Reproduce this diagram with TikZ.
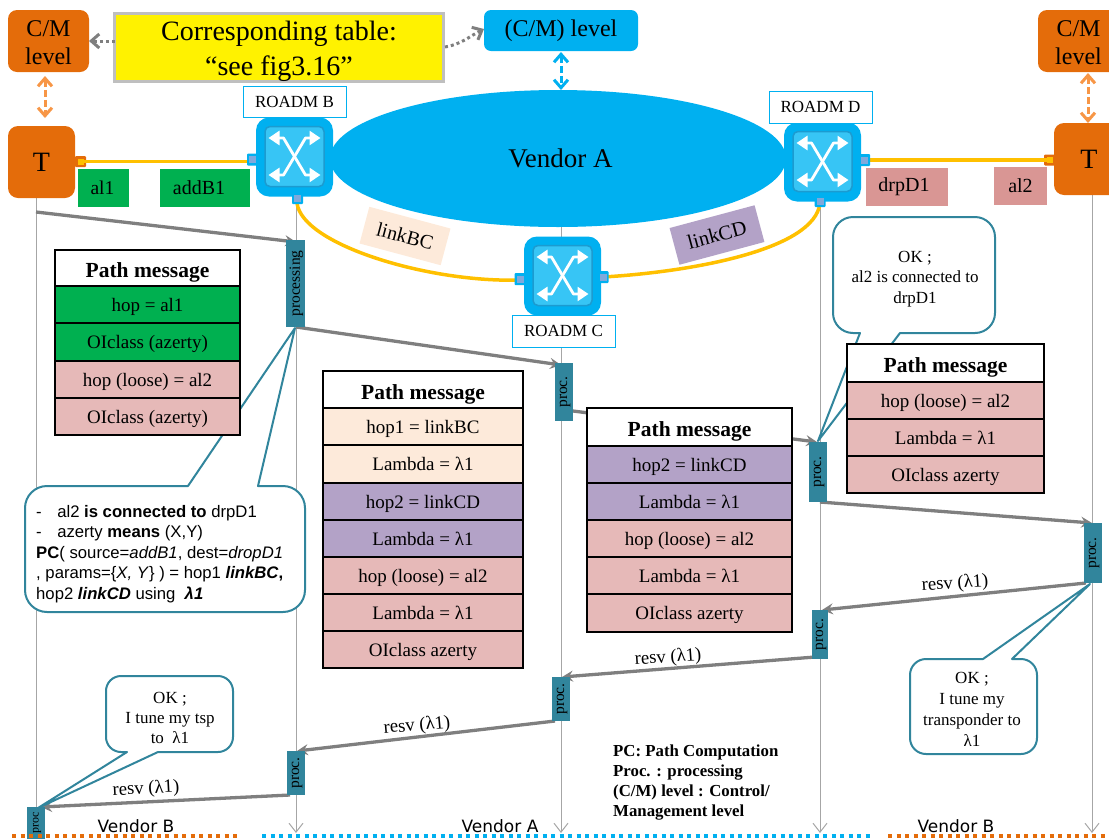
\documentclass[tikz,border=0pt]{standalone}
\usepackage{fontspec}
\setmainfont{Liberation Serif}
\setsansfont{Liberation Sans}
\newfontfamily\vendorfont{DejaVu Sans}
\usetikzlibrary{arrows.meta,shapes.geometric,calc}
\definecolor{cmorange}{HTML}{E46C0A}
\definecolor{lightorange}{HTML}{F79646}
\definecolor{skyblue}{HTML}{00B0F0}
\definecolor{innerblue}{HTML}{37C5F5}
\definecolor{innerborder}{HTML}{1C9BD0}
\definecolor{portblue}{HTML}{7FA9DC}
\definecolor{tealc}{HTML}{31859C}
\definecolor{msggray}{HTML}{7F7F7F}
\definecolor{lifegray}{HTML}{A6A6A6}
\definecolor{linkyellow}{HTML}{FFC000}
\definecolor{rowgreen}{HTML}{00B050}
\definecolor{rowpink}{HTML}{E6B9B8}
\definecolor{rowpeach}{HTML}{FDEADA}
\definecolor{rowpurple}{HTML}{B3A2C7}
\definecolor{labelpink}{HTML}{D99694}
\newcommand{\fs}[1]{\fontsize{#1}{#1}\selectfont}
\newcommand{\ptext}[2][15.5]{\hspace{2pt}\rotatebox{90}{\fs{#1}#2}}
\newcommand{\phead}{\raisebox{-3pt}{\fs{21.5}\bfseries Path message}}
\tikzset{
  x=1pt,y=-1pt,
  box/.style={inner sep=0pt,outer sep=0pt,align=center,anchor=north west},
  procbox/.style={fill=tealc,inner sep=0pt,outer sep=0pt,anchor=north west},
  msg/.style={draw=msggray,line width=3.3pt,-{Stealth[length=11pt,width=11pt,inset=4pt]}},
  life/.style={draw=lifegray,line width=1pt},
  lifeend/.style={life,-{Straight Barb[length=9pt,width=14pt,line width=1pt]}},
  link/.style={draw=linkyellow,line width=3.5pt},
  callout/.style={draw=tealc,line width=2pt,fill=white,line join=round},
  tagbox/.style={draw=skyblue,line width=.9pt,fill=white,font=\fs{17}},
  rowbox/.style={draw=black,line width=1.1pt,font=\fs{19},text height=17pt,text depth=4pt},
  port/.style={fill=skyblue,rounded corners=1pt},
  portin/.style={fill=portblue},
  swarrow/.style={white,line width=2.8pt,line join=round,{Triangle[length=11pt,width=14pt]}-{Triangle[length=11pt,width=14pt]}},
  cmarrow/.style={draw=lightorange,line width=3pt,dash pattern=on 7pt off 3pt,{Straight Barb[length=8pt,width=14pt,line width=3pt]}-{Straight Barb[length=8pt,width=14pt,line width=3pt]}},
  blarrow/.style={draw=skyblue,line width=3pt,dash pattern=on 7pt off 3pt,{Straight Barb[length=8pt,width=14pt,line width=3pt]}-{Straight Barb[length=8pt,width=14pt,line width=3pt]}},
  refarrow/.style={draw=msggray,line width=3pt,dash pattern=on 3pt off 3pt,-{Straight Barb[length=8pt,width=14pt,line width=3pt]}},
  resv/.style={font=\fs{18.7}},
  bubbletext/.style={align=center,font=\fs{17},inner sep=0pt},
  vendorlabel/.style={font=\vendorfont\fs{17},inner sep=0pt},
  dotline/.style={line width=4pt,dash pattern=on 4pt off 4.5pt}
}
% name w h text fill pos
\newcommand{\rbox}[6]{\node[box,rowbox,fill=#5,minimum width=#2 pt,minimum height=#3 pt] (#1) at (#6) {#4};}
% name, cx, cy
\newcommand{\roadm}[3]{%
  \fill[skyblue,rounded corners=13pt] (#2-38.5,#3-39.5) rectangle (#2+38.5,#3+39.5);
  \draw[fill=innerblue,draw=innerborder,line width=1.5pt,rounded corners=5pt] (#2-29.5,#3-30.5) rectangle (#2+29.5,#3+29.5);
  \draw[swarrow] (#2-26,#3-19) -- (#2-11,#3-19) -- (#2+11,#3+18) -- (#2+26,#3+18);
  \draw[swarrow] (#2+26,#3-19) -- (#2+11,#3-19) -- (#2-11,#3+18) -- (#2-26,#3+18);
  \coordinate (#1) at (#2,#3);
}
\newcommand{\bport}[3]{%
  \fill[port] (#2-5.5,#3-6) rectangle (#2+5.5,#3+6);
  \fill[portin] (#2-3.5,#3-3.5) rectangle (#2+3.5,#3+3.5);
  \coordinate (#1) at (#2,#3);
}
\newcommand{\oport}[3]{%
  \fill[cmorange,rounded corners=1pt] (#2-5.5,#3-5.5) rectangle (#2+5.5,#3+5.5);
  \fill[linkyellow] (#2-3,#3-3) rectangle (#2+3,#3+3);
  \coordinate (#1) at (#2,#3);
}
\begin{document}
\begin{tikzpicture}
\useasboundingbox (0,0) rectangle (1109,839);
% lifelines
\coordinate (lA) at (36,198); \coordinate (lAe) at (36,832);
\coordinate (lB) at (296,197); \coordinate (lBe) at (296,833);
\coordinate (lC) at (561,225); \coordinate (lCe) at (561,833);
\coordinate (lD) at (820,201); \coordinate (lDe) at (820,833);
\coordinate (lE) at (1092,195); \coordinate (lEe) at (1092,833);
\draw[life] (lA) -- (lAe);
\draw[lifeend] (lB) -- (lBe);
\draw[lifeend] (lC) -- (lCe);
\draw[lifeend] (lD) -- (lDe);
\draw[lifeend] (lE) -- (lEe);
% top boxes
\node[box,fill=cmorange,rounded corners=9pt,minimum width=81pt,minimum height=62pt,font=\fs{24}] (cmL) at (8,10) {\rule{0pt}{20pt}C/M\\[4pt]level};
\node[box,fill=cmorange,rounded corners=9pt,minimum width=81pt,minimum height=62pt,font=\fs{24}] (cmR) at (1038,10) {\rule{0pt}{20pt}C/M\\[4pt]level};
\node[box,draw=black!25,line width=3pt,fill=yellow,minimum width=329pt,minimum height=67pt,font=\fs{28}] (tbl) at (114.5,13.5) {\rule{0pt}{27pt}Corresponding table:\\[7pt]“see fig3.16”};
\node[box,fill=skyblue,rounded corners=7pt,minimum width=154pt,minimum height=41pt,font=\fs{24}] (cmT) at (484,10) {(C/M) level};
\node[box,fill=cmorange,rounded corners=10pt,minimum width=67pt,minimum height=72pt,font=\fs{28}] (TL) at (8,126) {T};
\node[box,fill=cmorange,rounded corners=10pt,minimum width=70pt,minimum height=72pt,font=\fs{28}] (TR) at (1054,123) {T};
\node[ellipse,fill=skyblue,inner sep=0pt,minimum width=456pt,minimum height=137pt,font=\fs{27}] (VA) at (558,158.5) {\hspace{5pt}Vendor A};
% dashed relations
\draw[cmarrow] (45,76) -- (45,118);
\draw[cmarrow] (1088,73) -- (1088,123);
\draw[blarrow] (561,52) -- (561,90);
\draw[refarrow] (tbl.west |- 0,41) -- (cmL.east |- 0,41);
\draw[refarrow] (445,47) .. controls (462,44) and (470,36) .. (cmT.west |- 0,29);
% yellow links (behind switches)
\oport{pTL}{80.5}{161.5}
\oport{pTR}{1049.5}{160}
\draw[link] (pTL) -- (250,161.5);
\draw[link] (864,160) -- (pTR);
\draw[link] (297,203) .. controls (302,245) and (430,283) .. (520,280);
\draw[link] (603,277) .. controls (690,272) and (815,250) .. (820,203);
% switches
\roadm{swB}{294.5}{157}
\roadm{swD}{822.5}{162}
\roadm{swC}{562.5}{276}
\bport{pB}{252.5}{159.5}
\bport{pD}{864.5}{160}
\bport{pCl}{520}{279}
\bport{pCr}{603}{277}
\bport{pBb}{297.5}{198}
\bport{pDb}{820}{201}
\node[box,tagbox,minimum width=103pt,minimum height=31pt] (tagB) at (243,86) {ROADM B};
\node[box,tagbox,minimum width=103pt,minimum height=32pt] (tagD) at (769,91) {ROADM D};
\node[box,tagbox,minimum width=103pt,minimum height=32pt] (tagC) at (512,315) {ROADM C};
% labels
\node[box,fill=rowgreen,minimum width=51pt,minimum height=38pt,font=\fs{19.5}] (al1) at (78,169) {\hspace{-2pt}al1};
\node[box,fill=rowgreen,minimum width=90pt,minimum height=38pt,font=\fs{20}] (addB) at (160,169) {addB1\hspace{12pt}};
\node[box,fill=labelpink,minimum width=82pt,minimum height=38pt,font=\fs{20}] (drp) at (866,168) {\raisebox{-2pt}{drpD1}\hspace{6pt}};
\node[box,fill=labelpink,minimum width=53pt,minimum height=38pt,font=\fs{20}] (al2) at (994,167) {al2};
\node[fill=rowpeach,rotate=-15,minimum width=84pt,minimum height=38pt,inner sep=0pt,font=\fs{20}] (lBC) at (405,236) {linkBC};
\node[fill=rowpurple,rotate=15,minimum width=88pt,minimum height=38pt,inner sep=0pt,font=\fs{20.5}] (lCD) at (717,235) {linkCD};
% messages
\draw[msg] (36,212) -- (296,242);
\draw[msg] (296,327) -- (561,365);
\draw[msg] (573,411) -- (817,442);
\draw[msg] (820,502) -- (1092,523);
\draw[msg] (1086,583) -- (822,610);
\draw[msg] (815,657) -- (562,677);
\draw[msg] (555,721) -- (297,751);
\draw[msg] (290,795) -- (41,807);
% proc boxes
\node[procbox,minimum width=19pt,minimum height=87pt] (p1) at (286,240) {\ptext{processing}};
\node[procbox,minimum width=18pt,minimum height=58pt] (p2) at (555,363) {\ptext{proc.}};
\node[procbox,minimum width=18pt,minimum height=60pt] (p3) at (809,442) {\ptext{proc.}};
\node[procbox,minimum width=18pt,minimum height=60pt] (p4) at (1084,523) {\ptext{proc.}};
\node[procbox,minimum width=16pt,minimum height=49pt] (p5) at (812,610) {\ptext{proc.}};
\node[procbox,minimum width=18pt,minimum height=44pt] (p6) at (552,677) {\ptext{proc.}};
\node[procbox,minimum width=18pt,minimum height=44pt] (p7) at (287,751) {\ptext{proc.}};
\node[procbox,minimum width=18pt,minimum height=32pt] (p8) at (27,807) {\ptext[12]{proc}};
% callouts
\draw[callout] (188,486) -- (295,328) -- (258,486) -- (283,486) arc (-90:0:22) -- (305,590) arc (0:90:22) -- (47,612) arc (90:180:22) -- (25,508) arc (180:270:22) -- cycle;
\node[align=left,anchor=north west,inner sep=0pt,font=\sffamily\fs{16.7}] (cPC) at (36,505) {-\hspace{15.5pt}al2 \textbf{is connected to} drpD1\\[3.8pt]
-\hspace{15.5pt}azerty \textbf{means} (X,Y)\\[3.8pt]
\textbf{PC}( source=\textit{addB1}, dest=\textit{dropD1}\\[3.8pt]
, params=\{\textit{X, Y}\} ) = hop1 \textbf{\textit{linkBC},}\\[3.8pt]
hop2 \textbf{\textit{linkCD}} using \ \textbf{\textit{λ1}}};
\draw[callout] (127,752) -- (38,808) -- (158,752) -- (218,752) arc (90:0:15) -- (233,691) arc (0:-90:15) -- (121,676) arc (-90:-180:15) -- (106,737) arc (180:90:15) -- cycle;
\node[bubbletext] (c2) at (170,718) {OK ;\\[3pt]I tune my tsp\\[3pt]to \ λ1};
\draw[callout] (983,659) -- (1090,584) -- (1012,659) -- (1021,659) arc (-90:0:16) -- (1037,738) arc (0:90:16) -- (926,754) arc (90:180:16) -- (910,675) arc (180:270:16) -- cycle;
\node[bubbletext] (c3) at (972,709) {OK ;\\[4pt]I tune my\\[4pt]transponder to\\[4pt]λ1};
\draw[callout] (860,333) -- (818,441) -- (900,333) -- (975,333) arc (90:0:20) -- (995,237) arc (0:-90:20) -- (853,217) arc (-90:-180:20) -- (833,313) arc (180:90:20) -- cycle;
\node[bubbletext] (c4) at (915,279) {OK ;\\[3.5pt]al2 is connected to\\[3.5pt]drpD1};
% table 1
\rbox{t1h}{185}{36}{\phead}{white}{55,250}
\rbox{t1a}{185}{37}{hop = al1}{rowgreen}{55,286}
\rbox{t1b}{185}{38}{OIclass (azerty)}{rowgreen}{55,323}
\rbox{t1c}{185}{37}{hop (loose) = al2}{rowpink}{55,361}
\rbox{t1d}{185}{37}{OIclass (azerty)}{rowpink}{55,398}
% table 2
\rbox{t2h}{200}{37}{\phead}{white}{323,371}
\rbox{t2a}{200}{37}{hop1 = linkBC}{rowpeach}{323,408}
\rbox{t2b}{200}{38}{Lambda = λ1}{rowpeach}{323,445}
\rbox{t2c}{200}{37}{hop2 = linkCD}{rowpurple}{323,483}
\rbox{t2d}{200}{37}{Lambda = λ1}{rowpurple}{323,520}
\rbox{t2e}{200}{37}{hop (loose) = al2}{rowpink}{323,557}
\rbox{t2f}{200}{37}{Lambda = λ1}{rowpink}{323,594}
\rbox{t2g}{200}{37}{OIclass azerty}{rowpink}{323,631}
% table 3
\rbox{t3h}{205}{38}{\phead}{white}{587,408}
\rbox{t3a}{205}{37}{hop2 = linkCD}{rowpurple}{587,446}
\rbox{t3b}{205}{37}{Lambda = λ1}{rowpurple}{587,483}
\rbox{t3c}{205}{37}{hop (loose) = al2}{rowpink}{587,520}
\rbox{t3d}{205}{37}{Lambda = λ1}{rowpink}{587,557}
\rbox{t3e}{205}{38}{OIclass azerty}{rowpink}{587,594}
% table 4
\rbox{t4h}{197}{38}{\phead}{white}{847,344}
\rbox{t4a}{197}{37}{hop (loose) = al2}{rowpink}{847,382}
\rbox{t4b}{197}{37}{Lambda = λ1}{rowpink}{847,419}
\rbox{t4c}{197}{37}{OIclass azerty}{rowpink}{847,456}
% resv labels
\node[resv,rotate=3] (r1) at (146,789) {resv (λ1)};
\node[resv,rotate=5] (r2) at (417,726) {resv (λ1)};
\node[resv,rotate=4] (r3) at (668,658) {resv (λ1)};
\node[resv,rotate=4] (r4) at (955,584) {resv (λ1)};
% legend
\node[align=left,anchor=north west,inner sep=0pt,font=\fs{16.8}\bfseries] (leg) at (613,745) {PC: Path Computation\\[3.2pt]Proc. : processing\\[3.2pt](C/M) level : Control/\\[3.2pt]Management level};
% bottom
\node[vendorlabel] (vb1) at (136,826) {Vendor B};
\node[vendorlabel] (va2) at (500,826) {Vendor A};
\node[vendorlabel] (vb2) at (956,826) {Vendor B};
\draw[dotline,cmorange] (12,836) -- (240,836);
\draw[dotline,skyblue] (262,836) -- (872,836);
\draw[dotline,cmorange] (888,836) -- (1109,836);
\end{tikzpicture}
\end{document}
